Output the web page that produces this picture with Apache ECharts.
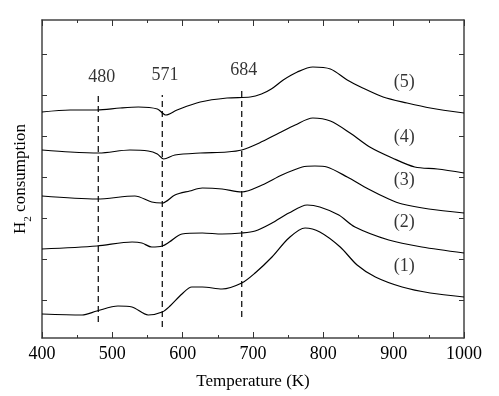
<!DOCTYPE html>
<html><head><meta charset="utf-8">
<script src="https://cdn.jsdelivr.net/npm/echarts@6/dist/echarts.min.js"></script>
<style>html,body{margin:0;padding:0;background:#fff}#c{width:499px;height:396px}</style>
</head><body><div id="c"></div>
<script>
// Temperature (K) and H2 consumption (arbitrary units, offset curves)
const t1 = [400,457,478,508,528,551,571,582,599,613,628,656,684,703,727,751,774,795,824,848,874,912,952,1000];
const v1 = [24,23,27,32,31,23,26,32,44,51,51,49,55,65,81,100,110,106,91,73,61,51,45,41];
const t2 = [400,478,528,542,556,571,581,599,628,656,684,703,727,751,777,795,822,845,893,940,1000];
const v2 = [89,92,96,95,91,92,96,104,105,104,105,107,115,125,133,131,123,111,98,91,85];
const t3 = [400,478,532,556,571,589,610,628,656,684,713,741,770,788,805,834,864,893,912,950,1000];
const v3 = [142,139,142,136,135,143,147,150,149,146,153,163,171,172,171,161,149,139,134,129,125];
const t4 = [400,440,481,525,551,564,573,589,625,663,684,709,737,760,785,810,838,866,898,930,962,1000];
const v4 = [188,186,185,188,187,184,179,183,185,186,188,195,205,213,220,217,205,191,180,171,169,165];
const t5 = [400,440,478,511,537,564,576,592,625,663,696,712,726,743,763,785,810,834,856,885,919,952,1000];
const v5 = [226,228,228,230,231,229,223,228,236,240,241,244,249,258,266,271,269,258,250,241,235,230,225];

const curveNames = ['(1)','(2)','(3)','(4)','(5)'];
const curveLabelT = [915,915,915,915,915];
const curveLabelV = [72,116,158,201,256];

const markTemps = [480,571,684];
const markTop = [246,243,251];
const markBottom = [16,11,21];
const markLabelT = [485,575,687];
const markLabelV = [261,263,268];

const xTicks = [400,500,600,700,800,900,1000];
const yTickVals = [38,79,120,161,202,243,284];

const font = 'Liberation Serif, Times New Roman, serif';
const pairs = (t, v) => t.map((x, i) => [x, v[i]]);
const ts = [t1,t2,t3,t4,t5], vs = [v1,v2,v3,v4,v5];

const series = [];
for (let i = 0; i < 5; i++) {
  series.push({type:'line', data: pairs(ts[i], vs[i]), symbol:'none', smooth:0.3,
    lineStyle:{color:'#000', width:1.2}, silent:true, xAxisIndex:0, yAxisIndex:0});
}
for (let i = 0; i < markTemps.length; i++) {
  series.push({type:'line', data: [[markTemps[i], markBottom[i]],[markTemps[i], markTop[i]]], symbol:'none',
    lineStyle:{color:'#000', width:1.2, type:[6,4]}, silent:true});
}
series.push({type:'scatter', symbolSize:0, silent:true,
  data: markTemps.map((m,i)=>({value:[markLabelT[i], markLabelV[i]], name:String(m)})),
  label:{show:true, position:'inside', formatter:p=>p.name, color:'#000', fontFamily:font, fontSize:18}});
series.push({type:'scatter', symbolSize:0, silent:true,
  data: curveNames.map((n,i)=>({value:[curveLabelT[i], curveLabelV[i]], name:n})),
  label:{show:true, position:'inside', formatter:p=>p.name, color:'#000', fontFamily:font, fontSize:18}});

const axLine = {show:true, onZero:false, lineStyle:{color:'#444', width:1.5}};
const tickStyle = {color:'#333', width:1};
const chart = echarts.init(document.getElementById('c'));
chart.setOption({
  animation:false,
  backgroundColor:'#fff',
  grid:{left:42, right:35, top:20, bottom:58},
  xAxis:[{type:'value', min:400, max:1000, interval:100, position:'bottom',
      name:'Temperature (K)', nameLocation:'middle', nameGap:35,
      nameTextStyle:{fontFamily:font, fontSize:17, color:'#000'},
      axisLine:axLine, axisTick:{inside:true, length:6, lineStyle:tickStyle},
      minorTick:{show:true, splitNumber:2, length:3, lineStyle:tickStyle},
      axisLabel:{fontFamily:font, fontSize:18, color:'#000', margin:7,
        customValues: xTicks, formatter: v => String(v)},
      splitLine:{show:false}},
    {type:'value', min:400, max:1000, interval:100, position:'top',
      axisLine:axLine, axisTick:{show:true, inside:true, length:6, lineStyle:tickStyle},
      minorTick:{show:true, splitNumber:2, length:3, lineStyle:tickStyle},
      axisLabel:{show:false}, splitLine:{show:false}}],
  yAxis:[{type:'value', min:0, max:318, position:'left',
      name:'{a|H}{b|2}{a| consumption}', nameLocation:'middle', nameGap:13,
      nameTextStyle:{color:'#000', rich:{a:{fontFamily:font, fontSize:17, color:'#000'},
        b:{fontFamily:font, fontSize:11, color:'#000', verticalAlign:'bottom', padding:[0,0,-5,0]}}},
      axisLine:axLine, axisTick:{inside:true, length:5, customValues:yTickVals, lineStyle:tickStyle},
      axisLabel:{show:false}, splitLine:{show:false}},
    {type:'value', min:0, max:318, position:'right',
      axisLine:axLine, axisTick:{inside:true, length:5, customValues:yTickVals, lineStyle:tickStyle},
      axisLabel:{show:false}, splitLine:{show:false}}],
  series: series
});
</script></body></html>
